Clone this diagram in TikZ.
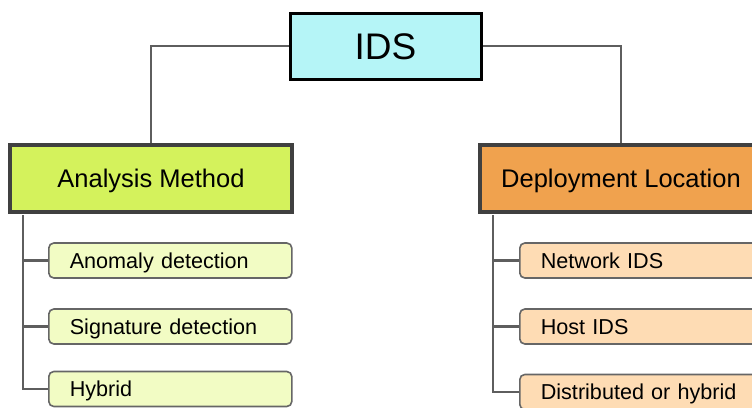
\documentclass[tikz,border=0pt]{standalone}
\usepackage{fontspec}
\setmainfont{Liberation Sans}
\definecolor{idsfill}{HTML}{B5F5F7}
\definecolor{amfill}{HTML}{D4F25C}
\definecolor{dlfill}{HTML}{F0A24E}
\definecolor{amchild}{HTML}{F2FCC4}
\definecolor{dlchild}{HTML}{FEDCB4}
\definecolor{linegray}{HTML}{5E5E5E}
\tikzset{
  rootbox/.style={draw=black, line width=3pt, fill=idsfill, minimum width=191pt,
    minimum height=66pt, inner sep=0pt, text height=26.5pt, text depth=0pt,
    font=\fontsize{37}{40}\selectfont},
  headbox/.style={draw=black!75, line width=3.5pt, minimum width=282pt,
    minimum height=67pt, inner sep=0pt, text height=18.3pt, text depth=0pt,
    font=\fontsize{25.5}{30}\selectfont},
  childbox/.style={draw=black!60, line width=1.6pt, rounded corners=5pt,
    minimum height=35pt, text width=201pt, inner xsep=21pt, inner ysep=0pt,
    text height=15.5pt, text depth=0pt, align=left, anchor=west,
    font=\fontsize{21.6}{25}\selectfont},
  conn/.style={draw=linegray, line width=2.8pt},
  spine/.style={draw=linegray, line width=2.1pt}
}
\begin{document}
\begin{tikzpicture}[x=1pt,y=-1pt]
\clip (0,0) rectangle (752,407);
\fill[white] (0,0) rectangle (752,407);

% tree links from the root, drawn under the boxes
\path (385.5,46) coordinate (idsc) (151,178.5) coordinate (amc) (621,178.5) coordinate (dlc);
\draw[conn] (idsc) -| (amc);
\draw[conn] (idsc) -| (dlc);
\node[rootbox] (ids) at (idsc) {IDS};
\node[headbox, fill=amfill] (am) at (amc) {Analysis Method};
\node[headbox, fill=dlfill] (dl) at (dlc) {Deployment Location};

% analysis method leaves
\node[childbox, fill=amchild] (a1) at (48,260.5) {Anomaly detection};
\node[childbox, fill=amchild] (a2) at (48,326.5) {Signature detection};
\node[childbox, fill=amchild] (a3) at (48,389) {Hybrid};
\coordinate (ls) at ([xshift=15pt,yshift=-1.5pt]am.south west);
\draw[spine] (ls) |- (a3.west);
\draw[spine] (ls |- a1.west) -- (a1.west);
\draw[spine] (ls |- a2.west) -- (a2.west);

% deployment location leaves
\node[childbox, fill=dlchild] (d1) at (519,260.5) {Network IDS};
\node[childbox, fill=dlchild] (d2) at (519,326.5) {Host IDS};
\node[childbox, fill=dlchild] (d3) at (519,392) {Distributed or hybrid};
\coordinate (rs) at ([xshift=15pt,yshift=-1.5pt]dl.south west);
\draw[spine] (rs) |- (d3.west);
\draw[spine] (rs |- d1.west) -- (d1.west);
\draw[spine] (rs |- d2.west) -- (d2.west);
\end{tikzpicture}
\end{document}
